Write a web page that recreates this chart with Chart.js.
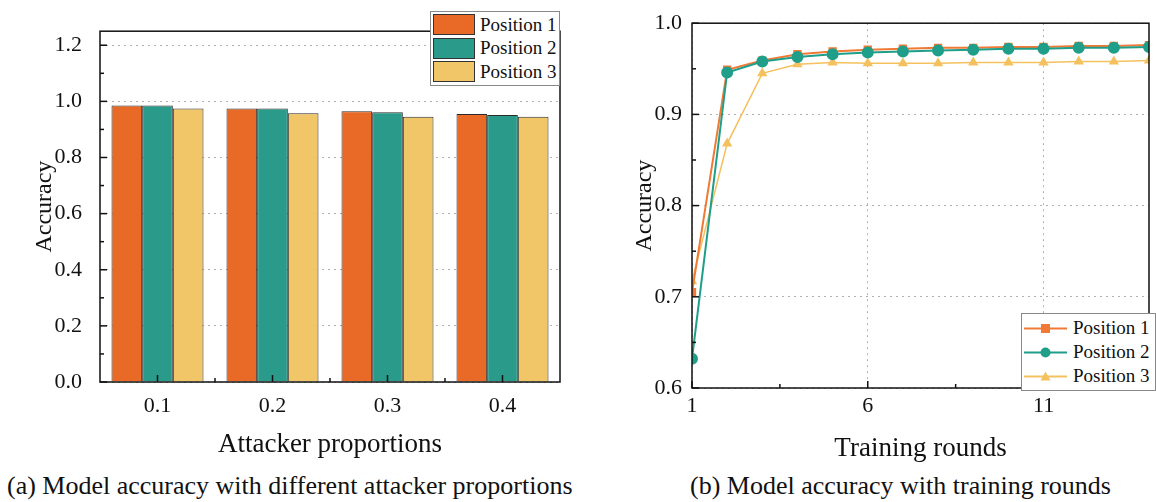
<!DOCTYPE html>
<html lang="en">
<head>
    <meta charset="UTF-8">
    <title>Model accuracy</title>
    <script src="https://cdn.jsdelivr.net/npm/chart.js"></script>
    <style>
        body { margin: 0; width: 1156px; height: 502px; background: #fff; position: relative; overflow: hidden; font-family: 'Liberation Serif', 'Times New Roman', serif; color: #111; }
        .box { position: absolute; top: 0; height: 470px; }
        #leftBox { left: 0; width: 580px; }
        #rightBox { left: 600px; width: 556px; }
        .caption { position: absolute; top: 471px; font-size: 26px; line-height: 30px; white-space: nowrap; }
        .legend { position: absolute; background: #fff; border: 1px solid #888; font-size: 19px; }
        .legend .row { display: flex; align-items: center; height: 23.5px; }
        .legend .sw { width: 40px; height: 19px; border: 1px solid #333; margin: 0 5px 0 2px; }
        .legend svg { margin: 0 5px 0 2px; }
    </style>
</head>
<body>
    <div class="box" id="leftBox"><canvas id="barChart"></canvas></div>
    <div class="box" id="rightBox"><canvas id="lineChart"></canvas></div>

    <div class="legend" id="barLegend" style="left:430px; top:11px; width:128px; height:72px; padding-top:1px;"></div>
    <div class="legend" id="lineLegend" style="left:1021px; top:313px; width:133px; height:74px; padding-top:2px;"></div>

    <div class="caption" style="left:7px;">(a) Model accuracy with different attacker proportions</div>
    <div class="caption" style="left:690px;">(b) Model accuracy with training rounds</div>

    <script>
        // left chart data
        const proportions = ['0.1', '0.2', '0.3', '0.4'];
        const pos1Bars = [0.985, 0.975, 0.965, 0.955];
        const pos2Bars = [0.985, 0.975, 0.961, 0.951];
        const pos3Bars = [0.975, 0.958, 0.945, 0.945];
        const accTicks = [0, 0.2, 0.4, 0.6, 0.8, 1.0, 1.2];

        // right chart data
        const rounds = [1, 2, 3, 4, 5, 6, 7, 8, 9, 10, 11, 12, 13, 14];
        const pos1Acc = [0.705, 0.949, 0.959, 0.966, 0.969, 0.971, 0.972, 0.973, 0.973, 0.974, 0.974, 0.975, 0.975, 0.976];
        const pos2Acc = [0.632, 0.946, 0.958, 0.963, 0.966, 0.968, 0.969, 0.970, 0.971, 0.972, 0.972, 0.973, 0.973, 0.974];
        const pos3Acc = [0.717, 0.868, 0.945, 0.955, 0.957, 0.956, 0.956, 0.956, 0.957, 0.957, 0.957, 0.958, 0.958, 0.959];
        const roundTicks = [1, 6, 11];

        const names = ['Position 1', 'Position 2', 'Position 3'];
        const barColors = ['#E86A26', '#2A9B8A', '#F0C668'];
        const lineColors = ['#F07A35', '#1F9E89', '#F4C15E'];
        const markers = ['rect', 'circle', 'triangle'];

        const serif = "'Liberation Serif', 'Times New Roman', serif";
        Chart.defaults.font.family = serif;
        Chart.defaults.color = '#111';
        Chart.defaults.animation = false;
        Chart.defaults.responsive = true;
        Chart.defaults.maintainAspectRatio = false;

        // frame around plot area + inward major/minor ticks
        const frameTicks = {
            id: 'frameTicks',
            afterDraw(chart) {
                const { ctx, chartArea: a, scales } = chart;
                ctx.save();
                ctx.strokeStyle = '#111';
                ctx.lineWidth = 1.5;
                ctx.strokeRect(a.left, a.top, a.right - a.left, a.bottom - a.top);
                ['x', 'y'].forEach(id => {
                    const s = scales[id];
                    const vals = s.ticks.map((t, i) => s.type === 'category' ? i : t.value);
                    const minors = [];
                    for (let i = 1; i < vals.length; i++) minors.push((vals[i - 1] + vals[i]) / 2);
                    if (vals.length > 1) {
                        const next = vals[vals.length - 1] + (vals[1] - vals[0]) / 2;
                        if (next < s.max) minors.push(next);
                    }
                    const mark = (v, len) => {
                        const p = s.getPixelForValue(v);
                        ctx.beginPath();
                        if (id === 'x') { ctx.moveTo(p, a.bottom); ctx.lineTo(p, a.bottom - len); }
                        else { ctx.moveTo(a.left, p); ctx.lineTo(a.left + len, p); }
                        ctx.stroke();
                    };
                    vals.forEach(v => mark(v, 7));
                    minors.forEach(v => mark(v, 4));
                });
                ctx.restore();
            }
        };

        const gridStyle = { color: '#b0b0b0', drawTicks: false };
        const gridBorder = { display: false, dash: [2, 4] };

        new Chart(document.getElementById('barChart'), {
            type: 'bar',
            data: {
                labels: proportions,
                datasets: [pos1Bars, pos2Bars, pos3Bars].map((d, i) => ({
                    label: names[i],
                    data: d,
                    backgroundColor: barColors[i],
                    borderColor: '#2b2b2b',
                    borderWidth: 1,
                    categoryPercentage: 0.8,
                    barPercentage: 1.0
                }))
            },
            options: {
                layout: { padding: { top: 10, right: 20, left: 0, bottom: 0 } },
                plugins: { legend: { display: false }, tooltip: { enabled: false } },
                scales: {
                    x: {
                        grid: { display: false },
                        border: { display: false },
                        ticks: { font: { size: 22 }, padding: 3 },
                        title: { display: true, text: 'Attacker proportions', font: { size: 27 }, padding: { top: 0, bottom: 9 } },
                        afterFit: s => { s.height = 88; }
                    },
                    y: {
                        min: 0, max: 1.25,
                        grid: gridStyle,
                        border: gridBorder,
                        afterBuildTicks: s => { s.ticks = accTicks.map(v => ({ value: v })); },
                        ticks: { font: { size: 22 }, padding: 18, callback: v => v.toFixed(1) },
                        title: { display: true, text: 'Accuracy', font: { size: 24 }, padding: { top: 30, bottom: 0 } },
                        afterFit: s => { s.width = 100; }
                    }
                }
            },
            plugins: [frameTicks]
        });

        new Chart(document.getElementById('lineChart'), {
            type: 'line',
            data: {
                datasets: [pos1Acc, pos2Acc, pos3Acc].map((d, i) => ({
                    label: names[i],
                    data: rounds.map((r, j) => ({ x: r, y: d[j] })),
                    borderColor: lineColors[i],
                    backgroundColor: lineColors[i],
                    borderWidth: i === 2 ? 1.5 : 2,
                    pointStyle: markers[i],
                    pointRadius: i === 1 ? 5 : 4.5,
                    order: [1, 0, 2][i]
                }))
            },
            options: {
                layout: { padding: { top: 17, right: 4, left: 0, bottom: 0 } },
                plugins: { legend: { display: false }, tooltip: { enabled: false } },
                scales: {
                    x: {
                        type: 'linear', min: 1, max: 14,
                        grid: gridStyle,
                        border: gridBorder,
                        ticks: { font: { size: 22 }, padding: 5 },
                        afterBuildTicks: s => { s.ticks = roundTicks.map(v => ({ value: v })); },
                        title: { display: true, text: 'Training rounds', font: { size: 27 }, padding: { top: 0, bottom: 5 } },
                        afterFit: s => { s.height = 82; }
                    },
                    y: {
                        min: 0.6, max: 1.0,
                        grid: gridStyle,
                        border: gridBorder,
                        ticks: { stepSize: 0.1, font: { size: 22 }, padding: 10, callback: v => v.toFixed(1) },
                        title: { display: true, text: 'Accuracy', font: { size: 24 }, padding: { top: 30, bottom: 0 } },
                        afterFit: s => { s.width = 92; }
                    }
                }
            },
            plugins: [frameTicks]
        });

        // legends
        const barLegend = document.getElementById('barLegend');
        names.forEach((n, i) => {
            barLegend.innerHTML += `<div class="row"><div class="sw" style="background:${barColors[i]}"></div>${n}</div>`;
        });
        const markerSvg = (i) => {
            const c = lineColors[i];
            if (i === 0) return `<rect x="17" y="2" width="9" height="9" fill="${c}"/>`;
            if (i === 1) return `<circle cx="21.5" cy="6.5" r="5" fill="${c}"/>`;
            return `<polygon points="21.5,1.5 26.5,10.5 16.5,10.5" fill="${c}"/>`;
        };
        const lineLegend = document.getElementById('lineLegend');
        names.forEach((n, i) => {
            lineLegend.innerHTML += `<div class="row" style="height:24px"><svg width="44" height="13"><line x1="0" y1="6.5" x2="43" y2="6.5" stroke="${lineColors[i]}" stroke-width="2"/>${markerSvg(i)}</svg>${n}</div>`;
        });
    </script>
</body>
</html>
